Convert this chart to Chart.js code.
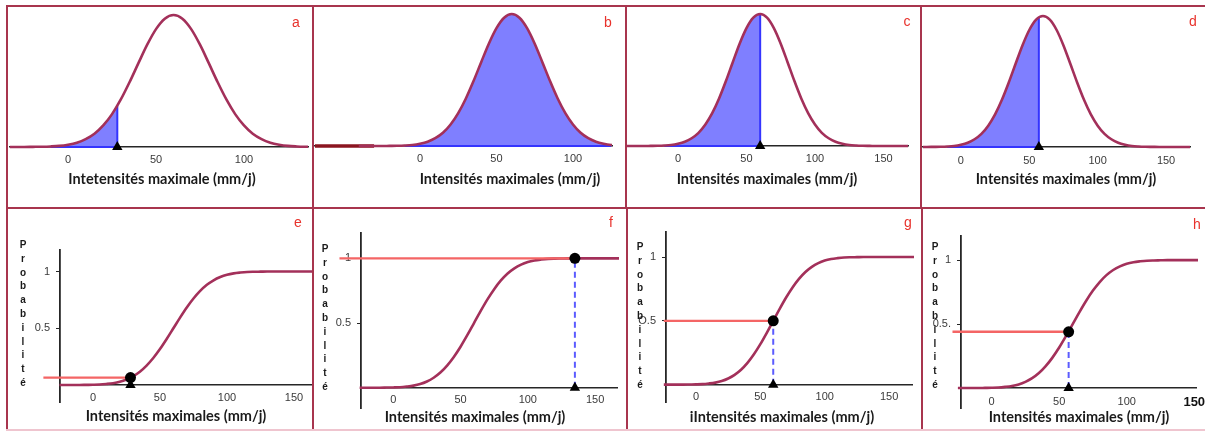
<!DOCTYPE html>
<html lang="fr">
<head>
<meta charset="utf-8">
<title>Intensités maximales</title>
<script src="https://cdn.jsdelivr.net/npm/chart.js@4.4.1/dist/chart.umd.min.js"></script>
<style>
    html, body { margin: 0; padding: 0; background: #fff; overflow: hidden; }
    #figure { position: relative; width: 1205px; height: 432px; }
    .rule { position: absolute; background: #a8354e; z-index: 2; }
    .panel-canvas { position: absolute; z-index: 1; }
    .panel-letter { position: absolute; z-index: 3; font: 14px 'Liberation Sans', Arial, sans-serif; color: #e8322c; transform: translate(-50%, -50%); }
    .axis-title { position: absolute; z-index: 3; font: bold 14.5px Lato, sans-serif; color: #1a1a1a; white-space: nowrap; transform: translate(-50%, -50%); }
    .prob-label { position: absolute; z-index: 3; display: flex; flex-direction: column; align-items: center; font: bold 10px 'Liberation Sans', Arial, sans-serif; color: #1a1a1a; line-height: 13.8px; transform: translate(-50%, -50%); }
</style>
</head>
<body>
<div id="figure"></div>
<script>
// Values (x in mm/j)
const xValues = [-40, -35, -30, -25, -20, -15, -10, -5, 0, 5, 10, 15, 20, 25, 30, 35, 40, 45, 50, 55,
    60, 65, 70, 75, 80, 85, 90, 95, 100, 105, 110, 115, 120, 125, 130, 135, 140, 145, 150, 155, 160, 165, 170];
// density curve, height relative to its peak
const densityValues = [0, 0, 0, 0, 0.001, 0.002, 0.004, 0.008, 0.017, 0.032, 0.059, 0.100, 0.163, 0.249, 0.360, 0.492, 0.635, 0.775, 0.893, 0.972,
    1.000, 0.972, 0.893, 0.775, 0.635, 0.492, 0.360, 0.249, 0.163, 0.100, 0.059, 0.032, 0.017, 0.008, 0.004, 0.002, 0.001, 0, 0, 0, 0, 0, 0];
// cumulative probability curve
const probabilityValues = [0, 0, 0, 0, 0, 0, 0, 0.001, 0.002, 0.004, 0.009, 0.016, 0.028, 0.048, 0.077, 0.117, 0.171, 0.238, 0.317, 0.406,
    0.500, 0.594, 0.683, 0.762, 0.829, 0.883, 0.923, 0.952, 0.972, 0.984, 0.991, 0.996, 0.998, 0.999, 1, 1, 1, 1, 1, 1, 1, 1, 1];

const xTickValues = [0, 50, 100, 150];
const probTickValues = [0.5, 1];

// top row: shaded area up to the cut
const densityPanels = ['a', 'b', 'c', 'd'];
const densityCuts = [28, 125, 60, 57];
const densityCutHeights = [0.31, 0.008, 1.0, 0.99];
const shadeStart = -10;
const leadInB = [-68.6, -30];

// bottom row: probability read at the cut
const probabilityPanels = ['e', 'f', 'g', 'h'];
const probabilityCuts = [28, 135, 60, 57];
const probabilityAtCut = [0.065, 1.0, 0.5, 0.44];
const guideStarts = [-37, -40, -25, -29];
const probTickLabels = [['0.5', '1'], ['0.5', '1'], ['O.5', '1'], ['0.5.', '1']];

const axisTitles = [
    'Intetensités maximale (mm/j)', 'Intensités maximales (mm/j)', 'Intensités maximales (mm/j)', 'Intensités maximales (mm/j)',
    'Intensités maximales (mm/j)', 'Intensités maximales (mm/j)', 'iIntensités maximales (mm/j)', 'Intensités maximales (mm/j)'
];

(function() {
    'use strict';

    var PAD = 20;
    var Y_W = 40;
    var CURVE = '#a3305a';
    var FILL = '#7f7fff';
    var BLUE = '#3434ff';
    var GUIDE = '#f46565';
    var DASH = '#5b5bff';

    // plot areas [left, top, right, bottom] and axis ranges for each panel
    var layouts = {
        a: { box: [10, 8, 308, 150], x: [-33, 136.4], y: [-0.023, 1.053] },
        b: { box: [315, 8, 612, 149], x: [-68.6, 125.5], y: [-0.0227, 1.0455] },
        c: { box: [627, 8, 908, 149], x: [-37.2, 167.9], y: [-0.0227, 1.0455] },
        d: { box: [923, 8, 1190, 150], x: [-27.7, 167.5], y: [-0.0229, 1.061] },
        e: { box: [60, 250, 311, 402], x: [-24.6, 162.7], y: [-0.150, 1.19] },
        f: { box: [361, 233, 617, 408], x: [-24.0, 166.3], y: [-0.157, 1.196] },
        g: { box: [666, 232, 912, 402], x: [-23.3, 167.8], y: [-0.136, 1.196] },
        h: { box: [961, 236, 1196, 408], x: [-22.7, 151.3], y: [-0.156, 1.189] }
    };
    var letterPos = {
        a: [296, 22], b: [608, 22], c: [907, 21], d: [1193, 21],
        e: [298, 222], f: [611, 222], g: [908, 222], h: [1197, 224]
    };
    var titlePos = [[162, 178], [510, 178], [767, 178], [1066, 178], [176, 415], [475, 416], [782, 416], [1079, 416]];
    var probPos = { e: [23, 314], f: [325, 318], g: [640, 316], h: [935, 316] };
    var tickPad = { a: 6, b: 6, c: 6, d: 7, e: 6, f: 6, g: 6, h: 7 };

    var figure = document.getElementById('figure');

    function addRule(l, t, w, h, color) {
        var d = document.createElement('div');
        d.className = 'rule';
        d.style.left = l + 'px';
        d.style.top = t + 'px';
        d.style.width = w + 'px';
        d.style.height = h + 'px';
        if (color) d.style.background = color;
        figure.appendChild(d);
    }

    function addText(cls, text, x, y) {
        var d = document.createElement('div');
        d.className = cls;
        d.textContent = text;
        d.style.left = x + 'px';
        d.style.top = y + 'px';
        figure.appendChild(d);
        return d;
    }

    function points(xs, ys) {
        var out = [];
        for (var i = 0; i < xs.length; i++) out.push({ x: xs[i], y: ys[i] });
        return out;
    }

    function placeCanvas(box, yw) {
        var cv = document.createElement('canvas');
        cv.className = 'panel-canvas';
        var w = box[2] - box[0] + 2 * PAD + yw;
        var h = box[3] - box[1] + 2 * PAD;
        cv.width = w;
        cv.height = h;
        cv.style.width = w + 'px';
        cv.style.height = h + 'px';
        cv.style.left = (box[0] - PAD - yw) + 'px';
        cv.style.top = (box[1] - PAD) + 'px';
        figure.appendChild(cv);
        return cv;
    }

    function xScale(id, lay) {
        return {
            type: 'linear',
            min: lay.x[0],
            max: lay.x[1],
            position: { y: 0 },
            grid: { display: true, drawOnChartArea: false, drawTicks: false },
            border: { display: true, color: '#262626', width: 1.6 },
            ticks: {
                padding: tickPad[id],
                color: function(ctx) {
                    return (id === 'h' && ctx.tick && ctx.tick.value === 150) ? '#111' : '#3a3a3a';
                },
                font: function(ctx) {
                    if (id === 'h' && ctx.tick && ctx.tick.value === 150) {
                        return { family: "'Liberation Sans', Arial", size: 13, weight: 'bold' };
                    }
                    return { family: "'Liberation Sans', Arial", size: 11 };
                },
                callback: function(v) { return String(v); }
            },
            afterBuildTicks: function(s) {
                s.ticks = xTickValues.filter(function(v) { return v >= s.min && v <= s.max; })
                    .map(function(v) { return { value: v }; });
            },
            afterFit: function(s) { s.height = 0; }
        };
    }

    function baseOptions(id, lay, yScale) {
        return {
            responsive: false,
            maintainAspectRatio: false,
            animation: false,
            events: [],
            layout: { padding: PAD },
            plugins: { legend: { display: false }, tooltip: { enabled: false } },
            scales: { x: xScale(id, lay), y: yScale }
        };
    }

    function markers(x, y, style, radius) {
        return {
            data: [{ x: x, y: y }],
            showLine: false,
            pointStyle: style,
            pointRadius: radius,
            pointBackgroundColor: '#000',
            pointBorderColor: '#000',
            pointBorderWidth: 0,
            clip: false,
            order: 0
        };
    }

    function segment(xs, ys, color, width, extra) {
        var ds = {
            data: points(xs, ys),
            borderColor: color,
            borderWidth: width,
            pointRadius: 0,
            fill: false,
            order: 2
        };
        for (var k in extra) ds[k] = extra[k];
        return ds;
    }

    function densityChart(i) {
        var id = densityPanels[i];
        var lay = layouts[id];
        var cut = densityCuts[i];
        var curve = points(xValues, densityValues);
        var shade = curve.filter(function(p) { return p.x < cut; });
        shade.push({ x: cut, y: densityCutHeights[i] });

        var datasets = [
            { data: curve, borderColor: CURVE, borderWidth: 2.6, pointRadius: 0, fill: false,
              cubicInterpolationMode: 'monotone', order: 1 },
            { data: shade, borderWidth: 0, borderColor: FILL, backgroundColor: FILL, pointRadius: 0,
              fill: 'origin', cubicInterpolationMode: 'monotone', order: 5 },
            segment([shadeStart, cut], [0, 0], BLUE, 2, { order: 4 })
        ];
        if (id === 'b') {
            datasets.push(segment(leadInB, [0, 0], '#8b1520', 3.5, { order: 3 }));
        } else {
            datasets.push(segment([cut, cut], [0, densityCutHeights[i]], BLUE, 2, { order: 2 }));
            datasets.push(markers(cut, 0, 'triangle', 6));
        }

        new Chart(placeCanvas(lay.box, 0), {
            type: 'line',
            data: { datasets: datasets },
            options: baseOptions(id, lay, { type: 'linear', display: false, min: lay.y[0], max: lay.y[1] })
        });
    }

    function probabilityChart(i) {
        var id = probabilityPanels[i];
        var lay = layouts[id];
        var cut = probabilityCuts[i];
        var p = probabilityAtCut[i];
        var labels = probTickLabels[i];
        var open = { left: false, top: false, right: 2, bottom: false };

        var datasets = [
            { data: points(xValues, probabilityValues), borderColor: CURVE, borderWidth: 2.6, pointRadius: 0,
              fill: false, cubicInterpolationMode: 'monotone', clip: open, order: 3 },
            segment([guideStarts[i], cut], [p, p], GUIDE, 2.4, { clip: false, order: 2 }),
            segment([cut, cut], [0, p], DASH, 2, { borderDash: [6, 4], order: 2 }),
            markers(cut, p, 'circle', 5.5),
            markers(cut, 0, 'triangle', 6)
        ];

        var yScale = {
            type: 'linear',
            min: lay.y[0],
            max: lay.y[1],
            position: 'left',
            grid: { display: true, drawOnChartArea: false, drawTicks: true, tickLength: 4, color: '#262626', lineWidth: 1 },
            border: { display: true, color: '#262626', width: 1.8 },
            ticks: {
                padding: 6,
                color: '#3a3a3a',
                font: { family: "'Liberation Sans', Arial", size: 11 },
                callback: function(v, idx) { return labels[idx]; }
            },
            afterBuildTicks: function(s) {
                s.ticks = probTickValues.map(function(v) { return { value: v }; });
            },
            afterFit: function(s) { s.width = Y_W; }
        };

        new Chart(placeCanvas(lay.box, Y_W), {
            type: 'line',
            data: { datasets: datasets },
            options: baseOptions(id, lay, yScale)
        });

        // stacked "Probabilité" label
        var pl = document.createElement('div');
        pl.className = 'prob-label';
        'Probabilité'.split('').forEach(function(ch) {
            var s = document.createElement('span');
            s.textContent = ch;
            pl.appendChild(s);
        });
        pl.style.left = probPos[id][0] + 'px';
        pl.style.top = probPos[id][1] + 'px';
        figure.appendChild(pl);
    }

    function init() {
        if (typeof Chart === 'undefined') {
            console.error('Chart.js not loaded');
            return;
        }

        // panel frame
        addRule(6, 5, 1199, 2);
        addRule(6, 207, 1199, 2);
        addRule(6, 5, 2, 426);
        addRule(312, 5, 2, 426);
        addRule(625, 5, 2, 203);
        addRule(626, 207, 2, 224);
        addRule(920, 5, 2, 203);
        addRule(921, 207, 2, 224);
        addRule(6, 429, 1199, 2, '#efc5cf');

        for (var i = 0; i < 4; i++) densityChart(i);
        for (var j = 0; j < 4; j++) probabilityChart(j);

        var ids = densityPanels.concat(probabilityPanels);
        ids.forEach(function(id, k) {
            addText('panel-letter', id, letterPos[id][0], letterPos[id][1]);
            addText('axis-title', axisTitles[k], titlePos[k][0], titlePos[k][1]);
        });
    }

    if (document.readyState === 'loading') {
        document.addEventListener('DOMContentLoaded', init);
    } else {
        init();
    }
})();
</script>
</body>
</html>
